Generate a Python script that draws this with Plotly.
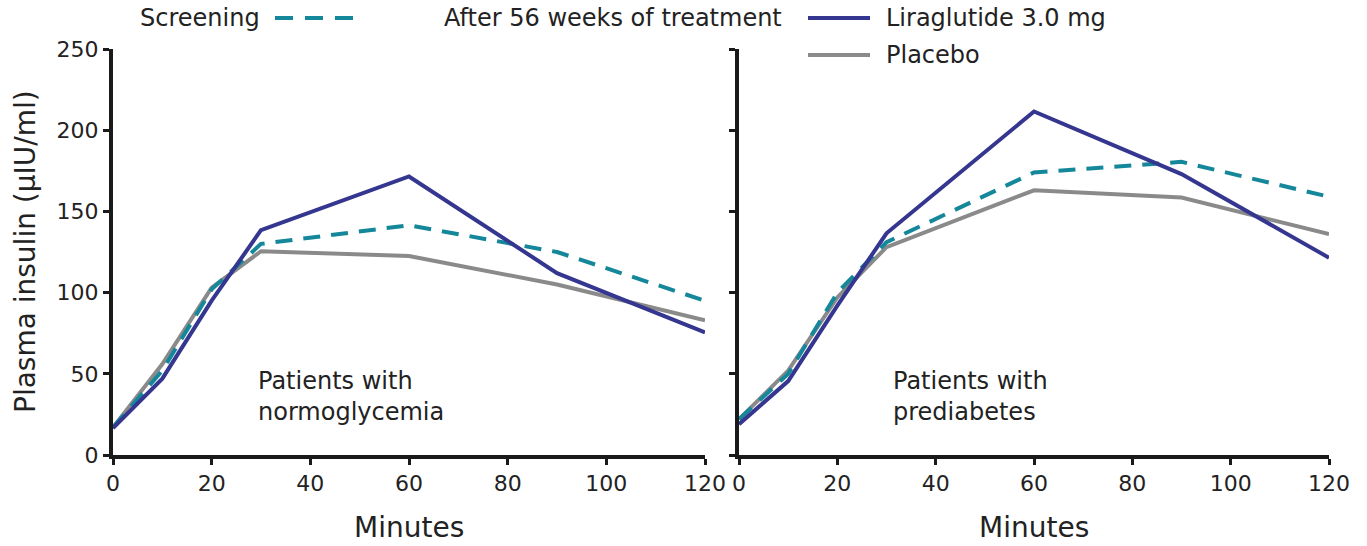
import plotly.graph_objects as go

minutes = [0, 10, 20, 30, 60, 90, 120]

# Patients with normoglycemia
normo_screening = [17, 52, 102, 130, 141.5, 125, 95]
normo_liraglutide = [16.5, 47, 95, 138.5, 171.5, 112, 75.5]
normo_placebo = [17, 56, 103, 125.5, 122.5, 105, 83]

# Patients with prediabetes
pre_screening = [22, 50, 100, 131, 174, 180.5, 159]
pre_liraglutide = [19, 45.5, 92, 136.5, 211.5, 173, 121.5]
pre_placebo = [22, 52, 97, 128, 163, 158.5, 136]

x_ticks = [0, 20, 40, 60, 80, 100, 120]
y_ticks = [0, 50, 100, 150, 200, 250]

BLUE = "#34368f"
TEAL = "#15879a"
GRAY = "#8a8a8a"
AXIS = "#1a1a1a"
TEXT = "#222222"
FONT = "DejaVu Sans"

W, H = 1367, 546


def px(x):
    return x / W


def py(y):
    return 1 - y / H


fig = go.Figure()


def add_panel(xa, ya, scr, lir, pla):
    fig.add_trace(go.Scatter(x=minutes, y=pla, mode="lines", xaxis=xa, yaxis=ya,
                             line=dict(color=GRAY, width=4), showlegend=False))
    fig.add_trace(go.Scatter(x=minutes, y=scr, mode="lines", xaxis=xa, yaxis=ya,
                             line=dict(color=TEAL, width=4, dash="17px,11px"), showlegend=False))
    fig.add_trace(go.Scatter(x=minutes, y=lir, mode="lines", xaxis=xa, yaxis=ya,
                             line=dict(color=BLUE, width=4), showlegend=False))


add_panel("x", "y", normo_screening, normo_liraglutide, normo_placebo)
add_panel("x2", "y2", pre_screening, pre_liraglutide, pre_placebo)

ydom = [py(455), py(49)]
xcommon = dict(range=[0, 120], tickvals=x_ticks, showline=True, linecolor=AXIS, linewidth=4,
               ticks="outside", tickwidth=3, ticklen=6, tickcolor=AXIS, showgrid=False,
               zeroline=False, tickfont=dict(family=FONT, size=22, color=TEXT), fixedrange=True,
               automargin=False)
ycommon = dict(range=[0, 250], tickvals=y_ticks, showline=True, linecolor=AXIS, linewidth=4,
               ticks="outside", tickwidth=3, ticklen=6, tickcolor=AXIS, showgrid=False,
               zeroline=False, tickfont=dict(family=FONT, size=22, color=TEXT), fixedrange=True,
               domain=ydom, automargin=False)

fig.update_layout(
    width=W, height=H,
    margin=dict(l=0, r=0, t=0, b=0, autoexpand=False),
    paper_bgcolor="white", plot_bgcolor="white",
    font=dict(family=FONT, color=TEXT),
    hovermode=False,
    xaxis=dict(domain=[px(113), px(705)], anchor="y", **xcommon),
    yaxis=dict(anchor="x", **ycommon),
    xaxis2=dict(domain=[px(739), px(1329)], anchor="y2", **xcommon),
    yaxis2=dict(anchor="x2", showticklabels=False, **ycommon),
)

annotations = [
    dict(text="Patients with<br>normoglycemia", x=29, y=36, xref="x", yref="y",
         xanchor="left", yanchor="middle", align="left", showarrow=False,
         font=dict(family=FONT, size=24, color=TEXT)),
    dict(text="Patients with<br>prediabetes", x=31, y=36, xref="x2", yref="y2",
         xanchor="left", yanchor="middle", align="left", showarrow=False,
         font=dict(family=FONT, size=24, color=TEXT)),
    dict(text="Minutes", x=px((113 + 705) / 2), y=py(527), xref="paper", yref="paper",
         xanchor="center", yanchor="middle", showarrow=False,
         font=dict(family=FONT, size=28, color=TEXT)),
    dict(text="Minutes", x=px((739 + 1329) / 2), y=py(527), xref="paper", yref="paper",
         xanchor="center", yanchor="middle", showarrow=False,
         font=dict(family=FONT, size=28, color=TEXT)),
    dict(text="Plasma insulin (µIU/ml)", x=px(25), y=py(252), xref="paper", yref="paper",
         xanchor="center", yanchor="middle", textangle=-90, showarrow=False,
         font=dict(family=FONT, size=28, color=TEXT)),
    # legend texts
    dict(text="Screening", x=px(262), y=py(18), xref="paper", yref="paper",
         xanchor="right", yanchor="middle", showarrow=False,
         font=dict(family=FONT, size=24, color=TEXT)),
    dict(text="After 56 weeks of treatment", x=px(784), y=py(18), xref="paper", yref="paper",
         xanchor="right", yanchor="middle", showarrow=False,
         font=dict(family=FONT, size=24, color=TEXT)),
    dict(text="Liraglutide 3.0 mg", x=px(884), y=py(18), xref="paper", yref="paper",
         xanchor="left", yanchor="middle", showarrow=False,
         font=dict(family=FONT, size=24, color=TEXT)),
    dict(text="Placebo", x=px(884), y=py(55), xref="paper", yref="paper",
         xanchor="left", yanchor="middle", showarrow=False,
         font=dict(family=FONT, size=24, color=TEXT)),
]
fig.update_layout(annotations=annotations)

shapes = [
    dict(type="line", xref="paper", yref="paper", x0=px(275), x1=px(357),
         y0=py(18), y1=py(18), line=dict(color=TEAL, width=4, dash="18px,12px")),
    dict(type="line", xref="paper", yref="paper", x0=px(808), x1=px(870),
         y0=py(18), y1=py(18), line=dict(color=BLUE, width=4)),
    dict(type="line", xref="paper", yref="paper", x0=px(808), x1=px(870),
         y0=py(55), y1=py(55), line=dict(color=GRAY, width=4)),
]
fig.update_layout(shapes=shapes)

fig.write_html("out.html",
               config={"displayModeBar": False, "staticPlot": True},
               post_script="document.body.style.margin='0';document.body.style.overflow='hidden';")
